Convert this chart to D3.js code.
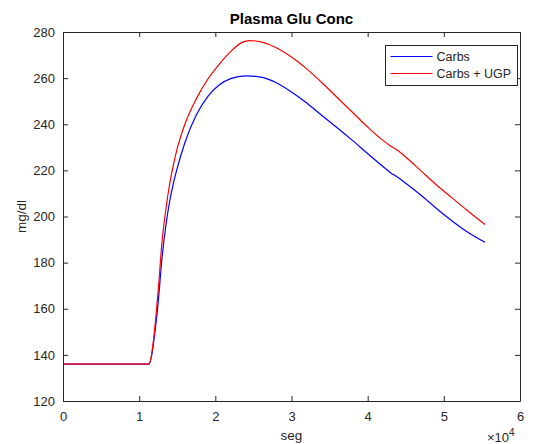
<!DOCTYPE html>
<html>
<head>
<meta charset="utf-8">
<script src="https://cdn.jsdelivr.net/npm/d3@7"></script>
<style>
  body { margin: 0; background: #fff; }
  svg { display: block; font-family: "Liberation Sans", Arial, Helvetica, sans-serif; }
</style>
</head>
<body>
<svg id="chart" width="535" height="444"></svg>
<script>
// time in units of 1e4 seg, glucose in mg/dl
const carbsT = [0, 1.13, 1.16, 1.20, 1.25, 1.30, 1.35, 1.40, 1.45, 1.50, 1.60, 1.75, 1.90, 2.05, 2.20, 2.40, 2.60, 2.80, 3.00, 3.20, 3.40, 3.60, 3.80, 4.00, 4.20, 4.30, 4.40, 4.50, 4.70, 4.90, 5.10, 5.30, 5.54];
const carbsV = [136, 136, 139, 148, 163, 182, 196, 206.5, 214.5, 221, 232, 244, 252, 257, 259.8, 261, 260.4, 258, 254, 249.2, 243.8, 238.5, 233, 227.3, 221.7, 219, 216.9, 214.4, 209.2, 203.6, 198.3, 193.5, 188.8];

const ugpT = [0, 1.13, 1.16, 1.20, 1.25, 1.30, 1.35, 1.40, 1.45, 1.50, 1.60, 1.75, 1.90, 2.05, 2.20, 2.35, 2.45, 2.60, 2.80, 3.00, 3.20, 3.40, 3.60, 3.80, 4.00, 4.20, 4.30, 4.40, 4.50, 4.70, 4.90, 5.10, 5.30, 5.54];
const ugpV = [136, 136, 139.5, 150, 168, 189, 203, 214, 222.5, 229.5, 240, 251, 259.5, 266, 271.5, 275.5, 276.3, 275.7, 273.2, 269.2, 264, 258, 251.6, 245.2, 238.8, 233, 230.6, 228.5, 225.8, 219.8, 213.8, 208.3, 202.8, 196.5];

const xTicks = [0, 1, 2, 3, 4, 5, 6];
const yTicks = [120, 140, 160, 180, 200, 220, 240, 260, 280];
const seriesNames = ['Carbs', 'Carbs + UGP'];
const seriesColors = ['#0000ff', '#ff0000'];

const width = 535, height = 444;
const margin = { top: 32, right: 15, bottom: 43, left: 63 };
const innerWidth = width - margin.left - margin.right;
const innerHeight = height - margin.top - margin.bottom;
const axisColor = '#262626';

const svg = d3.select('#chart');
const g = svg.append('g').attr('transform', `translate(${margin.left},${margin.top})`);

const xScale = d3.scaleLinear().domain([0, 6]).range([0, innerWidth]);
const yScale = d3.scaleLinear().domain([120, 280]).range([innerHeight, 0]);

// lines
const line = d3.line()
  .x(d => xScale(d[0]))
  .y(d => yScale(d[1]))
  .curve(d3.curveMonotoneX);

const series = [
  d3.zip(carbsT, carbsV),
  d3.zip(ugpT, ugpV)
];

series.forEach((s, i) => {
  g.append('path')
    .datum(s)
    .attr('fill', 'none')
    .attr('stroke', seriesColors[i])
    .attr('stroke-width', 1.2)
    .attr('d', line);
});

// axes, ticks pointing inward like matlab
function styleAxis(sel, showText) {
  sel.select('.domain').attr('stroke', axisColor).attr('stroke-width', 1);
  sel.selectAll('.tick line').attr('stroke', axisColor).attr('stroke-width', 1);
  if (showText) {
    sel.selectAll('.tick text').attr('fill', axisColor).style('font-size', '13px');
  } else {
    sel.selectAll('.tick text').remove();
  }
}

const xAxis = d3.axisBottom(xScale)
  .tickValues(xTicks)
  .tickFormat(d3.format('d'))
  .tickSizeInner(-5).tickSizeOuter(0).tickPadding(11);
g.append('g').attr('transform', `translate(0,${innerHeight})`).call(xAxis).call(styleAxis, true);

const xAxisTop = d3.axisTop(xScale)
  .tickValues(xTicks)
  .tickSizeInner(-5).tickSizeOuter(0);
g.append('g').call(xAxisTop).call(styleAxis, false);

const yAxis = d3.axisLeft(yScale)
  .tickValues(yTicks)
  .tickSizeInner(-5).tickSizeOuter(0).tickPadding(8);
g.append('g').call(yAxis).call(styleAxis, true);

const yAxisRight = d3.axisRight(yScale)
  .tickValues(yTicks)
  .tickSizeInner(-5).tickSizeOuter(0);
g.append('g').attr('transform', `translate(${innerWidth},0)`).call(yAxisRight).call(styleAxis, false);

// title and labels
svg.append('text')
  .attr('x', margin.left + innerWidth / 2)
  .attr('y', 24)
  .attr('text-anchor', 'middle')
  .style('font-size', '15px')
  .style('font-weight', 'bold')
  .attr('fill', '#000')
  .text('Plasma Glu Conc');

svg.append('text')
  .attr('x', margin.left + innerWidth / 2)
  .attr('y', 440)
  .attr('text-anchor', 'middle')
  .style('font-size', '13.5px')
  .attr('fill', axisColor)
  .text('seg');

svg.append('text')
  .attr('transform', `translate(26,${margin.top + innerHeight / 2}) rotate(-90)`)
  .attr('text-anchor', 'middle')
  .style('font-size', '13.5px')
  .attr('fill', axisColor)
  .text('mg/dl');

// exponent label
const expo = svg.append('text')
  .attr('x', 487)
  .attr('y', 442)
  .style('font-size', '13px')
  .attr('fill', axisColor);
expo.append('tspan').text('\u00d710');
expo.append('tspan').attr('dy', -6).style('font-size', '10px').text('4');

// legend
const legend = svg.append('g').attr('transform', 'translate(385.5,45.5)');
legend.append('rect')
  .attr('width', 132).attr('height', 40)
  .attr('fill', '#fff')
  .attr('stroke', axisColor)
  .attr('stroke-width', 1);

seriesNames.forEach((name, i) => {
  const row = legend.append('g').attr('transform', `translate(0,${11 + i * 17})`);
  row.append('line')
    .attr('x1', 5).attr('x2', 47)
    .attr('stroke', seriesColors[i])
    .attr('stroke-width', 1.2);
  row.append('text')
    .attr('x', 51).attr('dy', '0.35em')
    .style('font-size', '12.5px')
    .attr('fill', axisColor)
    .text(name);
});
</script>
</body>
</html>
